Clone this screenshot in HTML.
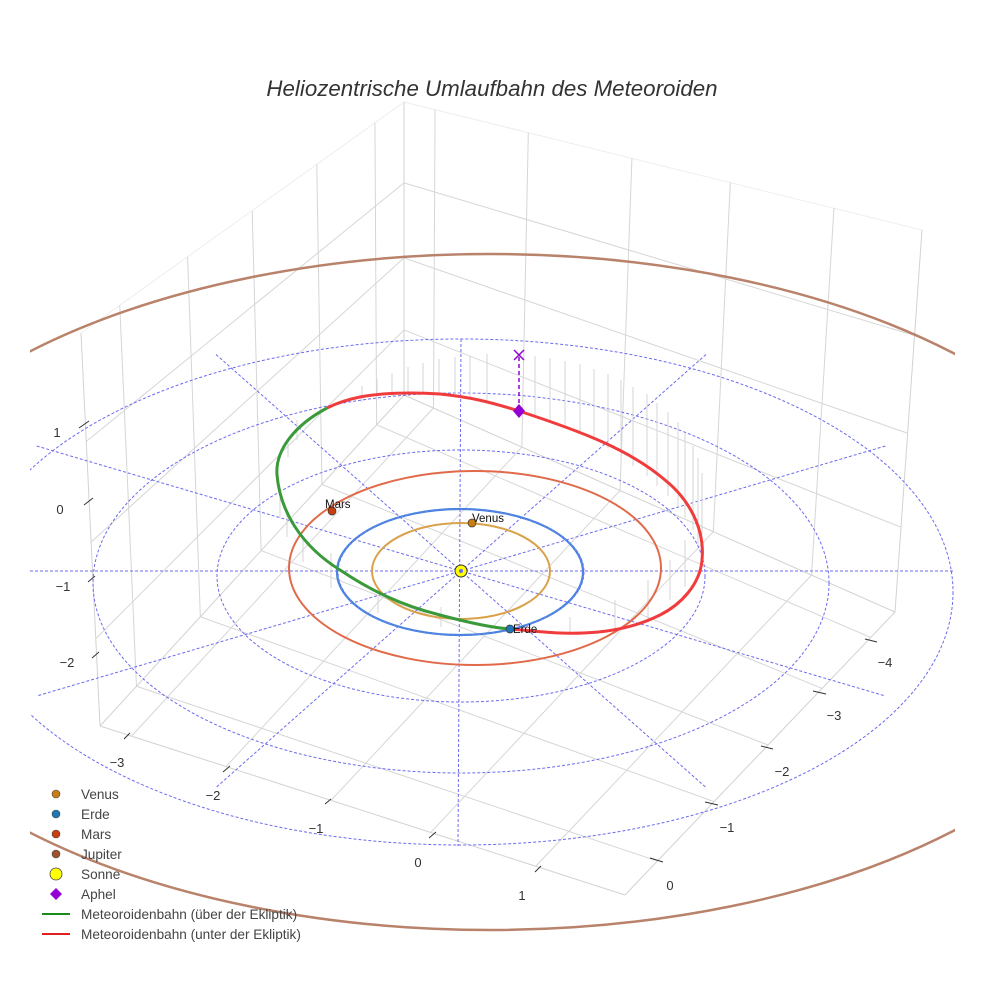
<!DOCTYPE html>
<html><head><meta charset="utf-8"><style>
html,body{margin:0;padding:0;background:#fff;}
svg{display:block;font-family:"Liberation Sans",sans-serif;}
</style></head><body>
<svg id="s" width="984" height="984" viewBox="0 0 984 984" xmlns="http://www.w3.org/2000/svg">
<defs><clipPath id="c"><rect x="30" y="0" width="925" height="984"/></clipPath></defs>
<rect width="984" height="984" fill="#fff"/>
<g id="grid" stroke="#d6d6d6" stroke-width="1" fill="none"></g>
<g id="ticks" stroke="#333" stroke-width="1">
<line x1="79" y1="428" x2="89" y2="421"/><line x1="84" y1="505" x2="93" y2="498"/>
<line x1="88" y1="582" x2="95" y2="576"/><line x1="92" y1="658" x2="99" y2="652"/>
<line x1="124" y1="739" x2="130" y2="733"/><line x1="223" y1="772" x2="230" y2="766"/>
<line x1="325" y1="804" x2="331" y2="799"/><line x1="429" y1="838" x2="436" y2="832"/>
<line x1="535" y1="872" x2="541" y2="866"/>
<line x1="865" y1="639" x2="877" y2="642"/><line x1="813" y1="691" x2="826" y2="694"/>
<line x1="761" y1="746" x2="773" y2="749"/><line x1="705" y1="802" x2="718" y2="805"/>
<line x1="650" y1="858" x2="663" y2="862"/>
</g>
<g font-size="13" fill="#333" text-anchor="middle">
<text x="57" y="437">1</text><text x="60" y="514">0</text><text x="63" y="591">−1</text><text x="67" y="667">−2</text>
<text x="117" y="767">−3</text><text x="213" y="800">−2</text><text x="316" y="833">−1</text><text x="418" y="867">0</text><text x="522" y="900">1</text>
<text x="885" y="667">−4</text><text x="834" y="720">−3</text><text x="782" y="776">−2</text><text x="727" y="832">−1</text><text x="670" y="890">0</text>
</g>
<g clip-path="url(#c)">
<g id="dash" stroke="#6b6bf0" stroke-width="1" stroke-dasharray="3,2" fill="none">
<ellipse cx="461" cy="572" rx="123" ry="63"/>
<ellipse cx="461" cy="576" rx="244" ry="126"/>
<ellipse cx="461" cy="583" rx="368" ry="190"/>
<ellipse cx="461" cy="592" rx="492" ry="253"/>
<line x1="0" y1="571" x2="984" y2="571"/>
<line x1="461" y1="339" x2="458" y2="846"/>
</g>
<ellipse cx="490" cy="592" rx="655" ry="338" fill="none" stroke="#b9826a" stroke-width="2.5"/>
</g>
<g id="drops" stroke="#d4d4d4" stroke-width="1"></g>
<ellipse cx="461" cy="571" rx="89" ry="48" fill="none" stroke="#d9a24a" stroke-width="2"/>
<ellipse cx="460" cy="572" rx="123" ry="63" fill="none" stroke="#3b86db" stroke-width="2.2"/>
<ellipse cx="460" cy="572" rx="123" ry="63" fill="none" stroke="#7a7af0" stroke-width="1" stroke-dasharray="3,2"/>
<ellipse cx="475" cy="568" rx="186" ry="97" fill="none" stroke="#e06a4a" stroke-width="2"/>
<path d="M510,629 C545,632 560,634 583,633 C615,632 640,625 660,615 C680,605 700,585 702,560 C705,530 690,500 665,480 C630,450 583,432 519,411 C490,402 470,397 440,394 C410,392 380,393 360,397 C345,400 335,404 327,408" fill="none" stroke="#f03c3c" stroke-width="3"/>
<path d="M327,408 C295,425 275,450 277,475 C280,510 300,545 340,570 C370,590 400,605 440,615 C470,623 495,628 510,629" fill="none" stroke="#3a9a3a" stroke-width="3"/>
<line x1="519" y1="357" x2="519" y2="410" stroke="#9400d3" stroke-width="1.5" stroke-dasharray="4,3"/>
<path d="M514,350 L524,360 M524,350 L514,360" stroke="#9400d3" stroke-width="1.5"/>
<path d="M519,404 L525,411 L519,418 L513,411 Z" fill="#9400d3"/>
<circle cx="461" cy="571" r="6" fill="#ffff00" stroke="#333" stroke-width="1"/>
<circle cx="461" cy="571" r="2" fill="#6b6bf0"/>
<circle cx="472" cy="523" r="4" fill="#c77d12" stroke="#333" stroke-width="0.7"/>
<circle cx="510" cy="629" r="4" fill="#1f77b4" stroke="#333" stroke-width="0.7"/>
<circle cx="332" cy="511" r="4" fill="#c8400e" stroke="#333" stroke-width="0.7"/>
<g font-size="11.5" fill="#111">
<text x="325" y="508">Mars</text><text x="472" y="522">Venus</text><text x="513" y="633">Erde</text>
</g>
<text x="492" y="96" font-size="22.3" font-style="italic" fill="#333" text-anchor="middle">Heliozentrische Umlaufbahn des Meteoroiden</text>
<g font-size="13.6" fill="#444">
<circle cx="56" cy="794" r="4" fill="#c77d12" stroke="#444" stroke-width="0.6"/><text x="81" y="799">Venus</text>
<circle cx="56" cy="814" r="4" fill="#1f77b4" stroke="#444" stroke-width="0.6"/><text x="81" y="819">Erde</text>
<circle cx="56" cy="834" r="4" fill="#c8400e" stroke="#444" stroke-width="0.6"/><text x="81" y="839">Mars</text>
<circle cx="56" cy="854" r="4" fill="#a0522d" stroke="#444" stroke-width="0.6"/><text x="81" y="859">Jupiter</text>
<circle cx="56" cy="874" r="6" fill="#ffff00" stroke="#444" stroke-width="0.8"/><text x="81" y="879">Sonne</text>
<path d="M56,888 L62,894 L56,900 L50,894 Z" fill="#9400d3"/><text x="81" y="899">Aphel</text>
<line x1="42" y1="914" x2="70" y2="914" stroke="#1a8a1a" stroke-width="2"/><text x="81" y="919">Meteoroidenbahn (über der Ekliptik)</text>
<line x1="42" y1="934" x2="70" y2="934" stroke="#e02020" stroke-width="2"/><text x="81" y="939">Meteoroidenbahn (unter der Ekliptik)</text>
</g>
</svg>
<script>
(function(){
var NS="http://www.w3.org/2000/svg";
function L(g,a,b,c,d,extra){var l=document.createElementNS(NS,"line");l.setAttribute("x1",a);l.setAttribute("y1",b);l.setAttribute("x2",c);l.setAttribute("y2",d);if(extra)for(var k in extra)l.setAttribute(k,extra[k]);g.appendChild(l);}
function lerp(p,q,t){return[p[0]+(q[0]-p[0])*t,p[1]+(q[1]-p[1])*t];}
var g=document.getElementById("grid");
var T=[404,102],LT=[81,333],RT=[922,230],B=[404,395],Lc=[100,726],F=[625,895],R=[895,612];
[[T,LT],[T,RT]].forEach(function(e){L(g,e[0][0],e[0][1],e[1][0],e[1][1],{stroke:"#eeeeee"});});
[[T,B],[LT,Lc],[RT,R],[B,Lc],[B,R],[Lc,F],[F,R]].forEach(function(e){L(g,e[0][0],e[0][1],e[1][0],e[1][1],{stroke:"#d2d2d2"});});
[.09,.27,.47,.67,.88].forEach(function(f){var a=lerp(T,LT,f),b=lerp(B,Lc,f);L(g,a[0],a[1],b[0],b[1]);});
[.276,.532,.778].forEach(function(f){var a=lerp(T,B,f),b=lerp(LT,Lc,f);L(g,a[0],a[1],b[0],b[1]);var c=lerp(RT,R,f);L(g,a[0],a[1],c[0],c[1]);});
[.06,.24,.44,.63,.83].forEach(function(f){var a=lerp(T,RT,f),b=lerp(B,R,f);L(g,a[0],a[1],b[0],b[1]);});
[.09,.27,.47,.67,.88].forEach(function(f){var a=lerp(B,Lc,f),b=lerp(R,F,f);L(g,a[0],a[1],b[0],b[1]);});
[.06,.24,.44,.63,.83].forEach(function(f){var a=lerp(B,R,f),b=lerp(Lc,F,f);L(g,a[0],a[1],b[0],b[1]);});
var d=document.getElementById("dash");
[30,60,120,150].forEach(function(a){var r=a*Math.PI/180,dx=490*Math.cos(r),dy=250*Math.sin(r);L(d,461-dx,571-dy,461+dx,571+dy);});
var dr=document.getElementById("drops");
[[362,386,402],[377,379,398],[392,373,396],[408,367,394],[423,363,394],[439,359,395],[455,357,396],[470,356,398],[487,354,401],[535,356,415],[550,358,420],[565,361,427],[580,364,433],[594,369,440],[608,374,448],[621,380,457],[633,387,466],[647,394,476],[657,403,486],[668,412,496],[678,422,507],[685,433,518],[693,446,530],[698,458,545],[702,473,560],
[685,540,587],[670,560,600],[648,580,620],[615,600,633],[570,617,633],
[297,420,440],[288,440,457],[280,497,517],[287,513,537],[303,540,562],[331,553,588],[378,597,613],[441,607,627]].forEach(function(p){L(dr,p[0],p[1],p[0],p[2]);});
})();
</script>
</body></html>
